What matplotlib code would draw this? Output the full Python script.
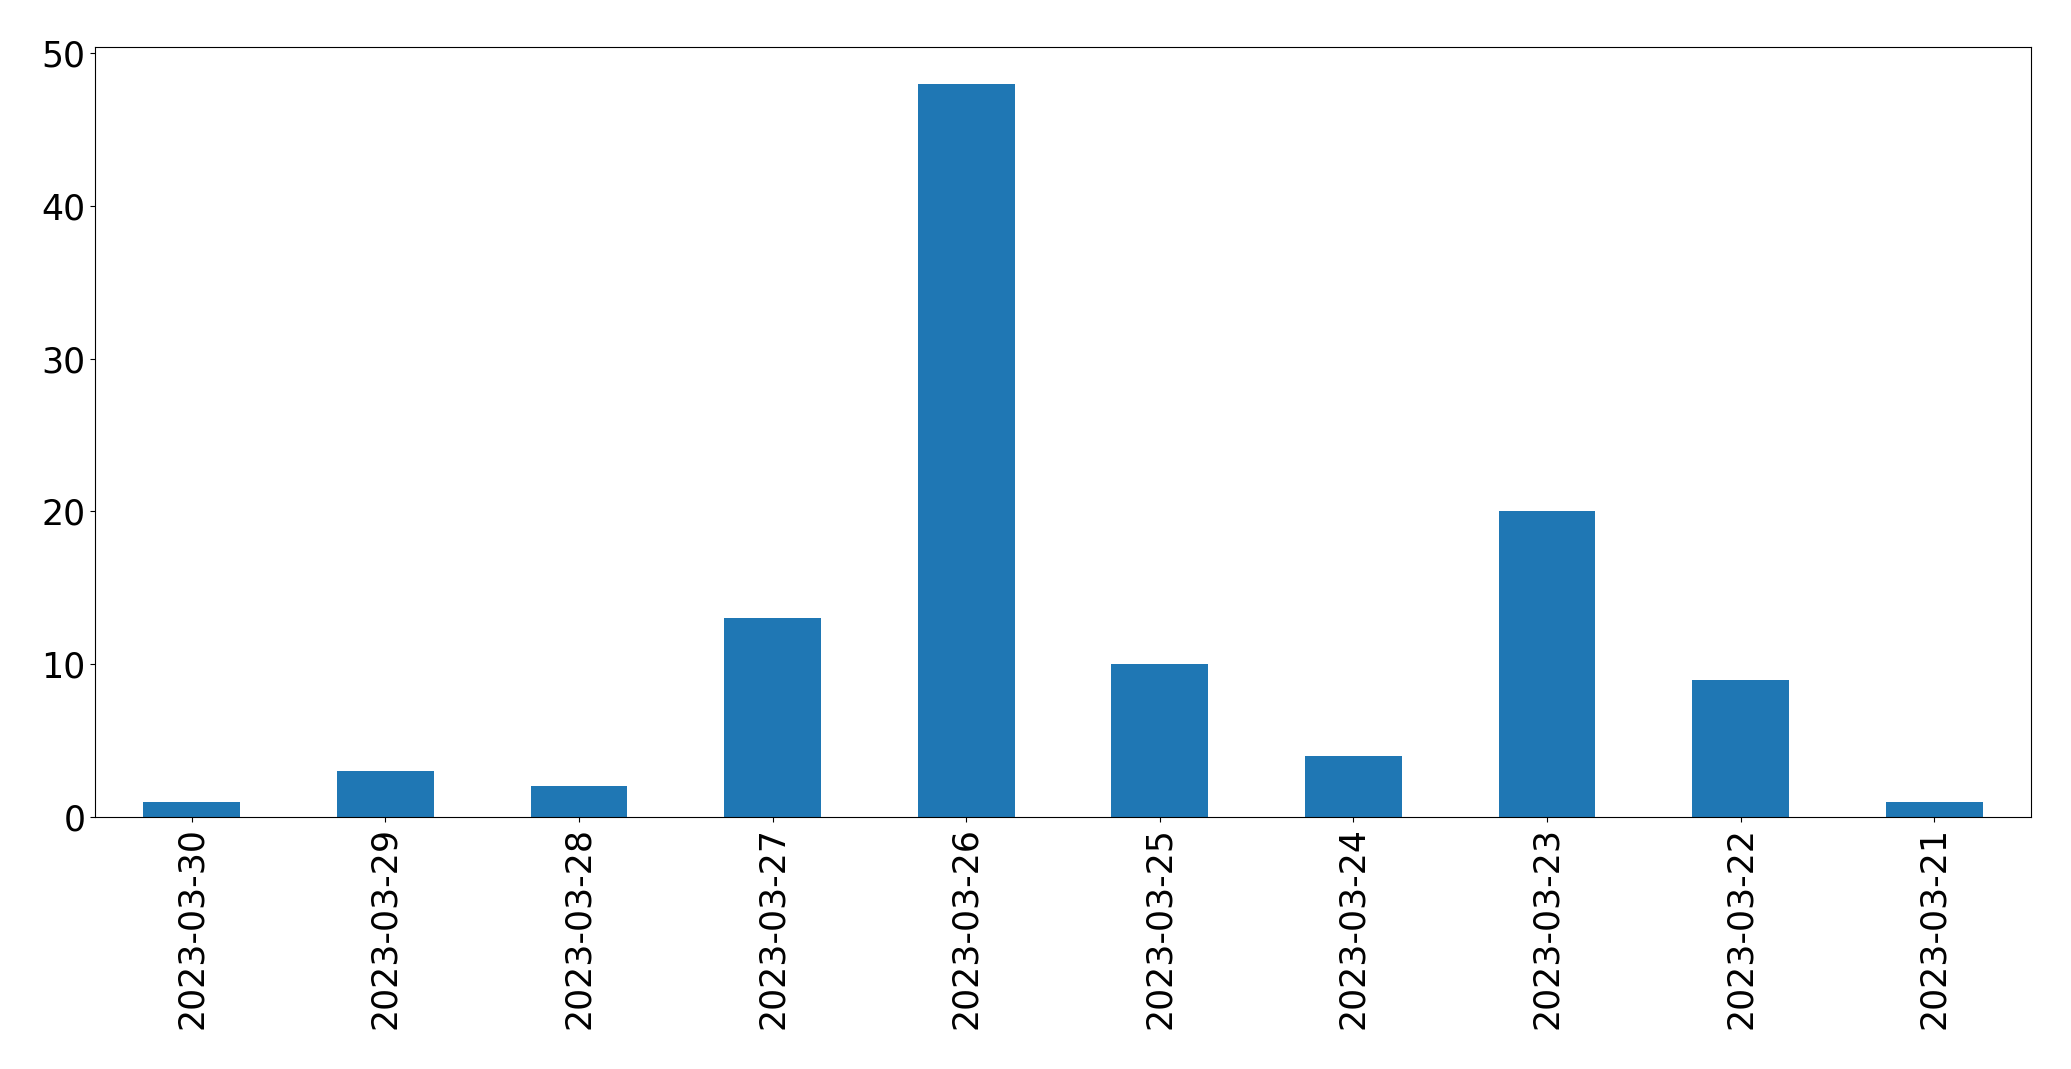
import matplotlib
matplotlib.use("Agg")
import matplotlib.pyplot as plt

dates = ['2023-03-30', '2023-03-29', '2023-03-28', '2023-03-27', '2023-03-26',
         '2023-03-25', '2023-03-24', '2023-03-23', '2023-03-22', '2023-03-21']
counts = [1, 3, 2, 13, 48, 10, 4, 20, 9, 1]

fig = plt.figure(figsize=(20.71, 10.69), dpi=100)
ax = fig.add_axes([95 / 2071, 1 - 817 / 1069, (2031 - 95) / 2071, (817 - 47) / 1069])

x = list(range(len(dates)))
ax.bar(x, counts, width=0.5, color='#1f77b4')
ax.set_xlim(-0.5, len(dates) - 0.5)
ax.set_xticks(x)
ax.set_xticklabels(dates, rotation=90)
ax.tick_params(labelsize=25)

fig.savefig("out.png", dpi=100)
